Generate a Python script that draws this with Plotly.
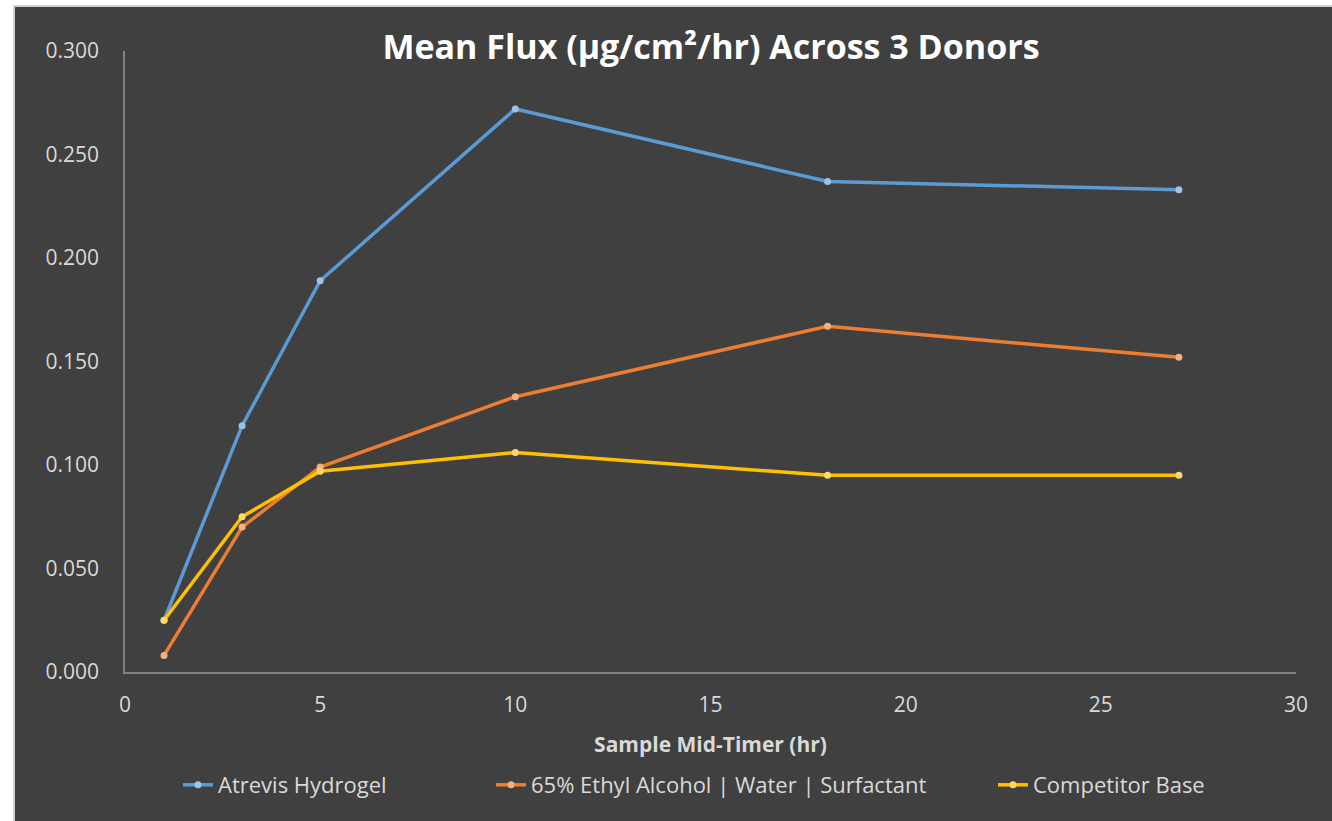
import plotly.graph_objects as go

time_hr = [1, 3, 5, 10, 18, 27]
atrevis = [0.025, 0.119, 0.189, 0.272, 0.237, 0.233]
ethyl = [0.008, 0.070, 0.099, 0.133, 0.167, 0.152]
competitor = [0.025, 0.075, 0.097, 0.106, 0.095, 0.095]

series = [
    ("Atrevis Hydrogel", atrevis, "#5B9BD5", "#9DC3E6", "legend"),
    ("65% Ethyl Alcohol | Water | Surfactant", ethyl, "#ED7D31", "#F4B183", "legend2"),
    ("Competitor Base", competitor, "#FFC000", "#FFD966", "legend3"),
]

fig = go.Figure()
for name, vals, col, mcol, lg in series:
    fig.add_trace(go.Scatter(
        x=time_hr, y=vals, name=name, mode="lines+markers",
        line=dict(color=col, width=3.5),
        marker=dict(color=mcol, size=7, line=dict(width=0)),
        legend=lg,
    ))

L, R, T, B = 125, 1296, 51, 672
W, H = 1332, 821
pw, ph = R - L, B - T

fig.add_shape(type="rect", xref="paper", yref="paper", layer="below",
              x0=(14 - L) / pw, x1=(W + 5 - L) / pw,
              y0=(B - (H + 5)) / ph, y1=1 + (T - 6) / ph,
              fillcolor="#404040", line=dict(color="#d0d0d0", width=2))

txt = "#d9d9d9"


def leg(xpx):
    return dict(orientation="h", x=xpx / W, xref="container", xanchor="left",
                y=1 - 785 / H, yref="container", yanchor="middle",
                font=dict(size=22, color=txt), bgcolor="rgba(0,0,0,0)")


fig.update_layout(
    width=W, height=H,
    margin=dict(l=L, r=W - R, t=T, b=H - B),
    paper_bgcolor="white", plot_bgcolor="#404040",
    font=dict(family="Open Sans", color=txt, size=21),
    title=dict(text="<b>Mean Flux (µg/cm²/hr) Across 3 Donors</b>",
               x=711 / W, xanchor="center", y=1 - 47 / H, yanchor="middle",
               font=dict(size=34, color="white", family="Open Sans")),
    xaxis=dict(range=[0, 30], dtick=5, showgrid=False, zeroline=False,
               showline=True, linecolor="#808080", linewidth=1.5,
               ticks="", ticklabelstandoff=13, tickfont=dict(size=21, color=txt),
               title=dict(text="<b>Sample Mid-Timer (hr)</b>",
                          font=dict(size=21, color=txt), standoff=20)),
    yaxis=dict(range=[0, 0.3], dtick=0.05, tickformat=".3f", showgrid=False,
               zeroline=False, showline=True, linecolor="#808080", linewidth=1.5,
               ticks="", ticklabelstandoff=20, tickfont=dict(size=21, color=txt)),
    legend=leg(178),
    legend2=leg(491),
    legend3=leg(993),
    showlegend=True,
)

fig.write_html("out.html", config={"displayModeBar": False},
               post_script="document.body.style.margin='0';")
